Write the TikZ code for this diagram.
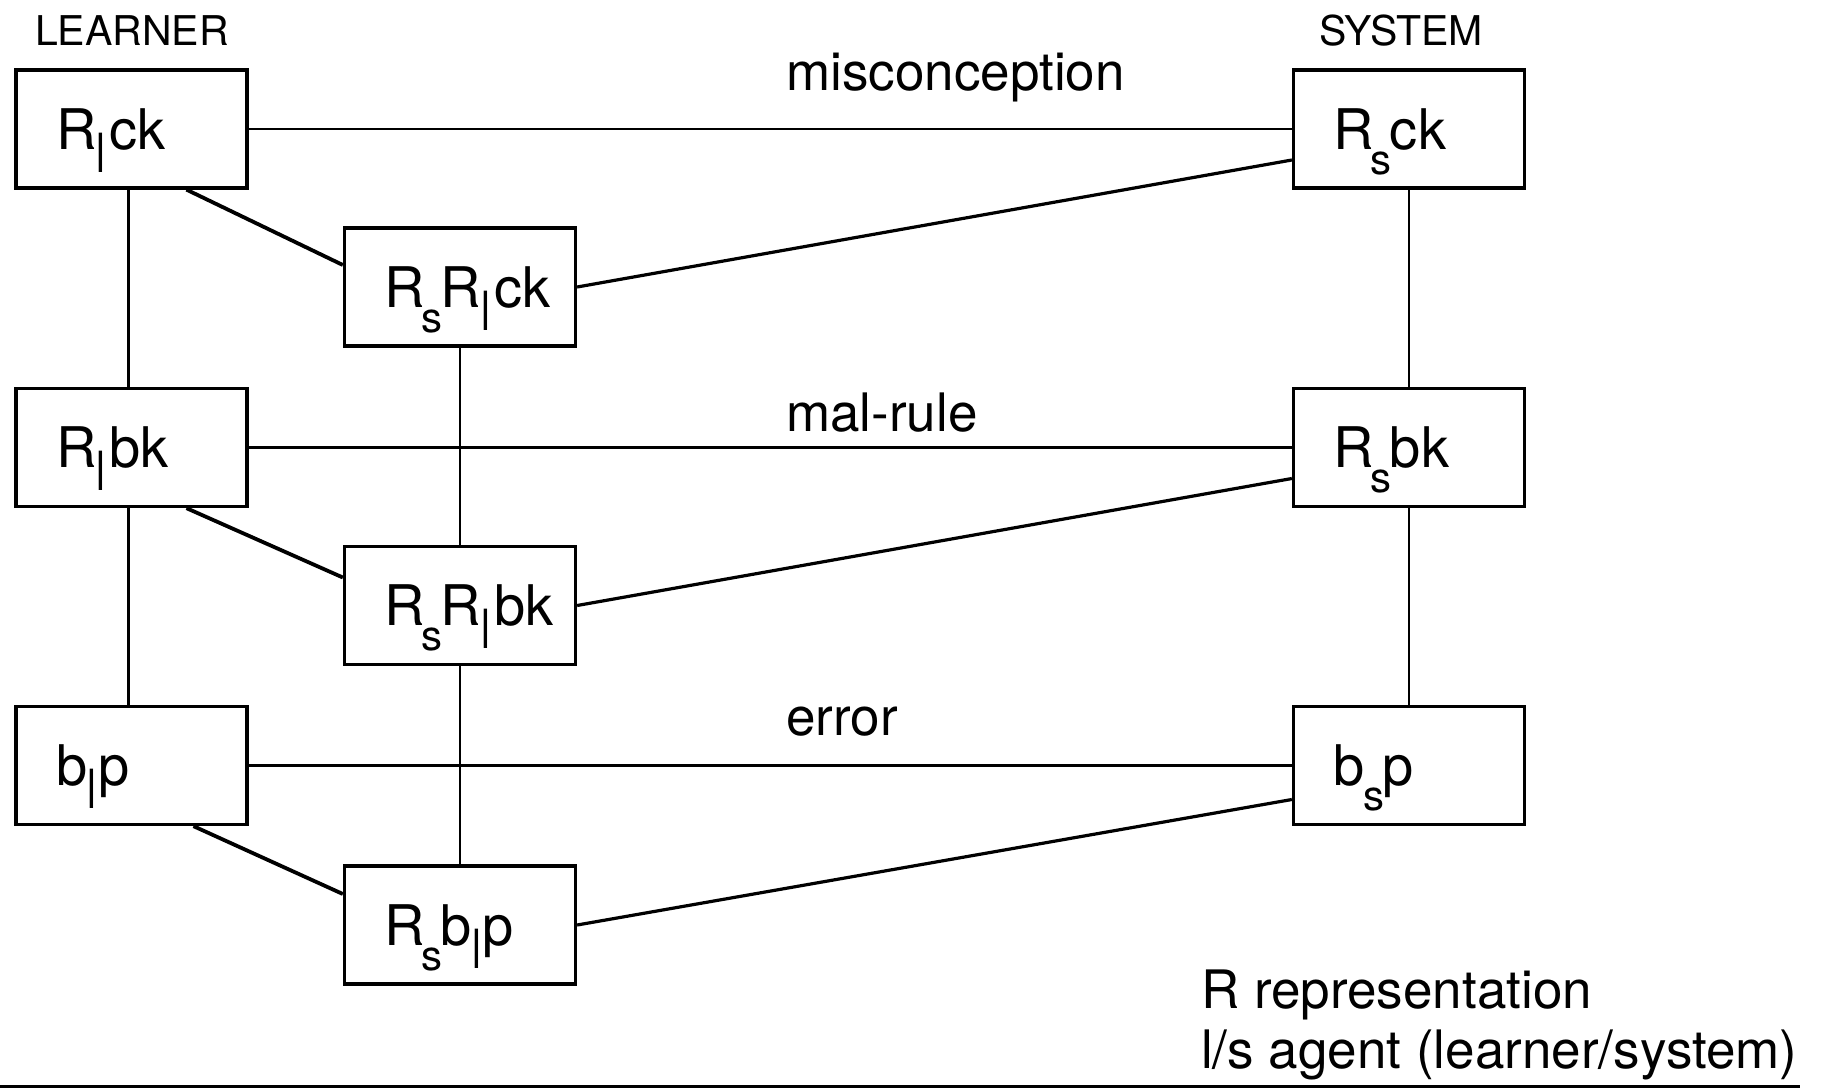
\documentclass[tikz,border=0pt]{standalone}
\usepackage{fontspec}
\setmainfont{TeX Gyre Heros}
\usetikzlibrary{calc}
\newcommand{\subs}{\raisebox{-25pt}{\fontsize{42}{42}\selectfont s}}
\newcommand{\subl}{\raisebox{-23pt}{\fontsize{40}{40}\selectfont\scalebox{1}[1.35]{l}}}
\tikzset{
  box/.style={draw, line width=3.3pt, rectangle, minimum width=231pt, minimum height=118pt,
    text width=151pt, inner xsep=40pt, align=left, text height=40pt, text depth=0pt,
    font=\fontsize{56}{60}\selectfont},
  lbl/.style={anchor=base west, inner sep=0pt, font=\fontsize{53}{60}\selectfont},
  head/.style={anchor=base west, inner sep=0pt, font=\fontsize{41}{45}\selectfont},
  conn/.style={line width=2.8pt},
  diagl/.style={line width=3.8pt},
  diagr/.style={line width=3.2pt}
}
\begin{document}
\begin{tikzpicture}[x=1pt,y=-1pt]
\useasboundingbox (0,0) rectangle (1821,1088);
% headers
\node[head] (learner) at (35,45) {LEARNER};
\node[head] (system) at (1319,45) {SYSTEM};
% boxes
\node[box] (Rlck) at (131.5,129) {R\subl\kern4pt ck};
\node[box] (Rsck) at (1409,129) {R\kern-3pt\subs\kern-2pt ck};
\node[box] (RsRlck) at (460,287) {R\kern-3pt\subs\kern-2pt R\subl\kern4pt ck};
\node[box] (Rlbk) at (131.5,447.5) {R\subl\kern4pt bk};
\node[box] (Rsbk) at (1409,447.5) {R\kern-3pt\subs\kern-2pt bk};
\node[box] (RsRlbk) at (460,605.5) {R\kern-3pt\subs\kern-2pt R\subl\kern4pt bk};
\node[box] (blp) at (131.5,765.5) {b\subl\kern2pt p};
\node[box] (bsp) at (1409,765.5) {b\kern-1pt\subs\kern-2pt p};
\node[box] (Rsblp) at (460,925) {R\kern-3pt\subs\kern-2pt b\subl\kern2pt p};
% edge labels
\node[lbl] (mis) at (786,90) {misconception};
\node[lbl] (mal) at (786,431) {mal-rule};
\node[lbl] (err) at (786,735) {error};
% legend
\node[lbl] (leg1) at (1201,1008) {R representation};
\node[lbl] (leg2) at (1201,1068) {l/s agent (learner/system)};
% horizontal connectors
\draw[conn] (Rlck.east) -- (Rsck.west);
\draw[conn] (Rlbk.east) -- (Rsbk.west);
\draw[conn] (blp.east) -- (bsp.west);
% vertical connectors
\draw[conn] ([xshift=-3pt]Rlck.south) -- ([xshift=-3pt]Rlbk.north);
\draw[conn] ([xshift=-3pt]Rlbk.south) -- ([xshift=-3pt]blp.north);
\draw[conn] (Rsck.south) -- (Rsbk.north);
\draw[conn] (Rsbk.south) -- (bsp.north);
\draw[conn] (RsRlck.south) -- (RsRlbk.north);
\draw[conn] (RsRlbk.south) -- (Rsblp.north);
% diagonal connectors
\draw[diagl] ([xshift=55pt]Rlck.south) -- ([yshift=22pt]RsRlck.west);
\draw[diagl] ([xshift=55pt]Rlbk.south) -- ([yshift=28pt]RsRlbk.west);
\draw[diagl] ([xshift=62pt]blp.south) -- ([yshift=31pt]Rsblp.west);
\draw[diagr] (RsRlck.east) -- ([yshift=-31pt]Rsck.west);
\draw[diagr] (RsRlbk.east) -- ([yshift=-31pt]Rsbk.west);
\draw[diagr] (Rsblp.east) -- ([yshift=-34pt]bsp.west);
% bottom rule
\coordinate (bl) at (0,1086);
\coordinate (br) at (1800,1086);
\draw[line width=3pt] (bl) -- (br);
\end{tikzpicture}
\end{document}
